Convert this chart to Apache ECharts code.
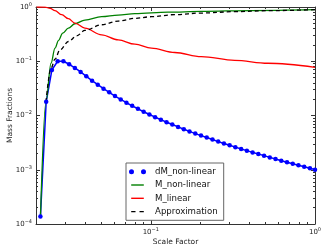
<!DOCTYPE html>
<html>
<head>
<meta charset="utf-8">
<script src="https://cdn.jsdelivr.net/npm/echarts@6/dist/echarts.min.js"></script>
<style>html,body{margin:0;padding:0;background:#fff}#c{width:324px;height:252px}</style>
</head>
<body>
<div id="c"></div>
<script>
// ---- data ----
const dmA = [0.02128,0.02307,0.02500,0.02710,0.02937,0.03184,0.03450,0.03738,0.04049,0.04388,0.04755,0.05153,0.05585,0.06053,0.06560,0.07109,0.07703,0.08348,0.09048,0.09806,0.1063,0.1152,0.1248,0.1352,0.1466,0.1589,0.1721,0.1866,0.2022,0.2191,0.2375,0.2573,0.2789,0.3022,0.3275,0.3550,0.3847,0.4169,0.4518,0.4896,0.5306,0.5750,0.6231,0.6753,0.7318,0.7931,0.8595,0.9316,1.0];
const dmY = [1.37e-4,0.0179,0.0691,0.100,0.100,0.0880,0.0752,0.0635,0.0528,0.0439,0.0370,0.0312,0.0267,0.0228,0.0198,0.0172,0.0151,0.0133,0.0117,0.01044,0.00931,0.00837,0.00753,0.00681,0.00617,0.00558,0.00509,0.00464,0.00426,0.00392,0.00360,0.00330,0.00305,0.00282,0.00261,0.00242,0.00225,0.00209,0.00195,0.00182,0.00169,0.00158,0.00147,0.00138,0.00129,0.00121,0.00114,0.00107,0.00100];

const mnlA = [0.0213,0.0230,0.0247,0.0261,0.0274,0.0291,0.0315,0.0345,0.0397,0.0502,0.0633,0.0799,0.1274,0.2031,0.4087,1.0];
const mnlY = [1.37e-4,0.0179,0.0918,0.174,0.241,0.330,0.408,0.491,0.574,0.662,0.711,0.753,0.802,0.831,0.861,0.892];

const mlinA = [0.0202,0.0227,0.0244,0.0261,0.0287,0.0315,0.0345,0.0397,0.0502,0.0634,0.0800,0.1009,0.140,0.203,0.324,0.516,1.0];
const mlinY = [1.0,0.993,0.945,0.855,0.721,0.608,0.505,0.408,0.307,0.248,0.206,0.174,0.145,0.122,0.104,0.0918,0.0774];

const apprA = [0.0230,0.0247,0.0261,0.0280,0.0315,0.0354,0.0397,0.0502,0.0633,0.0799,0.1009,0.1398,0.2031,0.3236,0.5160,1.0];
const apprY = [0.0179,0.0742,0.109,0.162,0.231,0.294,0.370,0.471,0.551,0.617,0.662,0.724,0.774,0.820,0.855,0.892];

const seriesNames = ['dM_non-linear','M_non-linear','M_linear','Approximation'];
const xMajor = [0.1, 1];
const yMajor = [1e-4, 1e-3, 1e-2, 1e-1, 1];
const xRange = [0.02, 1];
const yRange = [1e-4, 1];

// minor tick positions (2..9 x 10^k)
function minors(lo, hi) {
  const out = [];
  for (let e = -5; e <= 0; e++) for (let m = 2; m <= 9; m++) {
    const v = +(m * Math.pow(10, e)).toPrecision(3);
    if (v >= lo && v <= hi) out.push(v);
  }
  return out;
}
const xMinor = minors(xRange[0], xRange[1]);
const yMinor = minors(yRange[0], yRange[1]);

const pairs = (a, b) => a.map((v, i) => [v, b[i]]);
const FONT = 'DejaVu Sans';
const supFmt = v => {
  const e = Math.round(Math.log10(v));
  return '{b|10}{s|' + (e < 0 ? '\u2212' + (-e) : e) + '}';
};
const rich = {
  b: {fontSize: 7, fontFamily: FONT, color: '#222', lineHeight: 10},
  s: {fontSize: 5, fontFamily: FONT, color: '#222', lineHeight: 6, verticalAlign: 'top'}
};

function xAx(pos, major, showLabel, vals, len) {
  return {
    type: 'log', logBase: 10, position: pos, min: xRange[0], max: xRange[1],
    axisLine: {show: major, lineStyle: {color: '#333', width: 1}},
    splitLine: {show: false},
    axisTick: {show: true, inside: true, length: len, customValues: vals, lineStyle: {color: '#333', width: 1}},
    axisLabel: {show: showLabel, customValues: xMajor, formatter: supFmt, rich: rich, margin: 3},
    name: (pos === 'bottom' && major) ? 'Scale Factor' : '',
    nameLocation: 'middle', nameGap: 14, nameMoveOverlap: false,
    nameTextStyle: {fontSize: 7.5, fontFamily: FONT, color: '#222'}
  };
}
function yAx(pos, major, showLabel, vals, len) {
  return {
    type: 'log', logBase: 10, position: pos, min: yRange[0], max: yRange[1],
    axisLine: {show: major, lineStyle: {color: '#333', width: 1}},
    splitLine: {show: false},
    axisTick: {show: true, inside: true, length: len, customValues: vals, lineStyle: {color: '#333', width: 1}},
    axisLabel: {show: showLabel, customValues: yMajor, formatter: supFmt, rich: rich, margin: 4},
    name: (pos === 'left' && major) ? 'Mass Fractions' : '',
    nameLocation: 'middle', nameGap: 22, nameMoveOverlap: false,
    nameTextStyle: {fontSize: 7.5, fontFamily: FONT, color: '#222'}
  };
}

const dotsIcon = 'path://M0,2.5 a2.5,2.5 0 1,0 5,0 a2.5,2.5 0 1,0 -5,0 Z M12,2.5 a2.5,2.5 0 1,0 5,0 a2.5,2.5 0 1,0 -5,0 Z';
const lineIcon = 'path://M0,0 L0,0 M2.2,1.8 h12.6 v1.4 h-12.6 Z M17,5 L17,5';
const dashIcon = 'path://M0,0 L0,0 M2.2,1.8 h4.3 v1.4 h-4.3 Z M10.5,1.8 h4.3 v1.4 h-4.3 Z M17,5 L17,5';

const chart = echarts.init(document.getElementById('c'), null, {renderer: 'canvas'});
chart.setOption({
  animation: false,
  backgroundColor: '#fff',
  grid: {left: 36, right: 9, top: 7, bottom: 28, containLabel: false, outerBoundsMode: 'none'},
  xAxis: [
    xAx('bottom', true, true, xMajor, 4),
    xAx('bottom', false, false, xMinor, 2),
    xAx('top', true, false, xMajor, 4),
    xAx('top', false, false, xMinor, 2)
  ],
  yAxis: [
    yAx('left', true, true, yMajor, 4),
    yAx('left', false, false, yMinor, 2),
    yAx('right', true, false, yMajor, 4),
    yAx('right', false, false, yMinor, 2)
  ],
  legend: {
    orient: 'vertical', left: 126, top: 163,
    padding: [3.7, 6, 3.7, 3],
    itemWidth: 17, itemHeight: 5, itemGap: 3.3,
    backgroundColor: '#fff', borderColor: '#666', borderWidth: 1,
    selectedMode: false,
    textStyle: {fontSize: 8.6, fontFamily: FONT, color: '#111', lineHeight: 10, padding: [0, 0, 0, 4]},
    data: [
      {name: seriesNames[0], icon: dotsIcon, itemStyle: {color: '#0000ff', borderWidth: 0}},
      {name: seriesNames[1], icon: lineIcon, itemStyle: {color: '#008000', borderWidth: 0}},
      {name: seriesNames[2], icon: lineIcon, itemStyle: {color: '#ff0000', borderWidth: 0}},
      {name: seriesNames[3], icon: dashIcon, itemStyle: {color: '#000000', borderWidth: 0}}
    ]
  },
  series: [
    {name: seriesNames[0], type: 'line', data: pairs(dmA, dmY), symbol: 'circle', symbolSize: 4.5, showSymbol: true,
     itemStyle: {color: '#0000ff'}, lineStyle: {color: '#0000ff', width: 1.5}},
    {name: seriesNames[1], type: 'line', data: pairs(mnlA, mnlY), symbol: 'none', smooth: 0.35, smoothMonotone: 'x',
     itemStyle: {color: '#008000'}, lineStyle: {color: '#008000', width: 1.3}},
    {name: seriesNames[2], type: 'line', data: pairs(mlinA, mlinY), symbol: 'none', smooth: 0.35, smoothMonotone: 'x',
     itemStyle: {color: '#ff0000'}, lineStyle: {color: '#ff0000', width: 1.3}},
    {name: seriesNames[3], type: 'line', data: pairs(apprA, apprY), symbol: 'none', smooth: 0.35, smoothMonotone: 'x',
     itemStyle: {color: '#000000'}, lineStyle: {color: '#000000', width: 1.3, type: [4, 3]}}
  ]
});
</script>
</body>
</html>
